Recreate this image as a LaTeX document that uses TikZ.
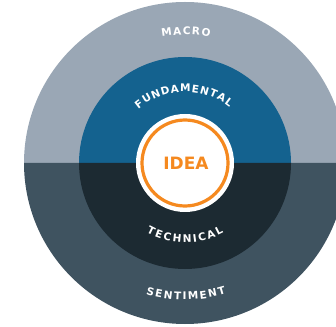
\documentclass[tikz,border=0pt]{standalone}
\usepackage{fontspec}
\setmainfont{DejaVu Sans}
\usetikzlibrary{calc}
\definecolor{macroc}{HTML}{9AA7B5}
\definecolor{sentc}{HTML}{3F5360}
\definecolor{fundc}{HTML}{14628F}
\definecolor{techc}{HTML}{1C2A32}
\definecolor{ideac}{HTML}{F5891F}
\newcommand\lblfont{\bfseries\fontsize{10.5}{11}\selectfont}
% #1 name, #2 radius, #3 middle angle, #4 sign (+1 top, -1 bottom), #5 gap, #6 letters
\newcommand\arctext[6]{%
  \lblfont
  \xdef\attot{0}%
  \foreach \l in {#6} {\pgfmathsetmacro\atw{width("\l")}\pgfmathsetmacro\att{\attot+\atw+#5}\xdef\attot{\att}}%
  \pgfmathsetmacro\ats{-(\attot-#5)/2}\xdef\atpos{\ats}%
  \foreach \l [count=\i] in {#6} {
    \pgfmathsetmacro\atw{width("\l")}
    \pgfmathsetmacro\ata{#3-#4*(\atpos+\atw/2)/#2*180/pi}
    \pgfmathsetmacro\atr{\ata-#4*90}
    \node[lbl,rotate=\atr] (#1-\i) at ($(c)+(\ata:#2)$) {\l};
    \pgfmathsetmacro\atp{\atpos+\atw+#5}\xdef\atpos{\atp}
  }}
\begin{document}
\begin{tikzpicture}[x=1pt,y=1pt,
  lbl/.style={text=white,font=\lblfont,inner sep=0pt,anchor=center}]
\useasboundingbox (0,0) rectangle (336,326);
\coordinate (c) at (185,163);
\begin{scope}
\clip (0,0) rectangle (336,326);
\fill[macroc] ($(c)+(-161,0)$) arc[start angle=180,end angle=0,radius=161] -- cycle;
\fill[sentc] ($(c)+(-161,0)$) arc[start angle=180,end angle=360,radius=161] -- cycle;
\end{scope}
\fill[fundc] ($(c)+(-106,0)$) arc[start angle=180,end angle=0,radius=106] -- cycle;
\fill[techc] ($(c)+(-106,0)$) arc[start angle=180,end angle=360,radius=106] -- cycle;
\fill[white] (c) circle (49);
\draw[ideac,line width=3.2pt] (c) circle (43);
\node[text=ideac,font=\bfseries\fontsize{17}{19}\selectfont,inner sep=0pt] (idea) at ($(c)+(1,0)$) {IDEA};
\arctext{m}{132}{89.6}{1}{1.5}{M,A,C,R,O}
\arctext{f}{75}{91}{1}{1.4}{F,U,N,D,A,M,E,N,T,A,L}
\arctext{t}{76}{270}{-1}{1.4}{T,E,C,H,N,I,C,A,L}
\arctext{s}{133}{270.4}{-1}{1.4}{S,E,N,T,I,M,E,N,T}
\end{tikzpicture}
\end{document}
